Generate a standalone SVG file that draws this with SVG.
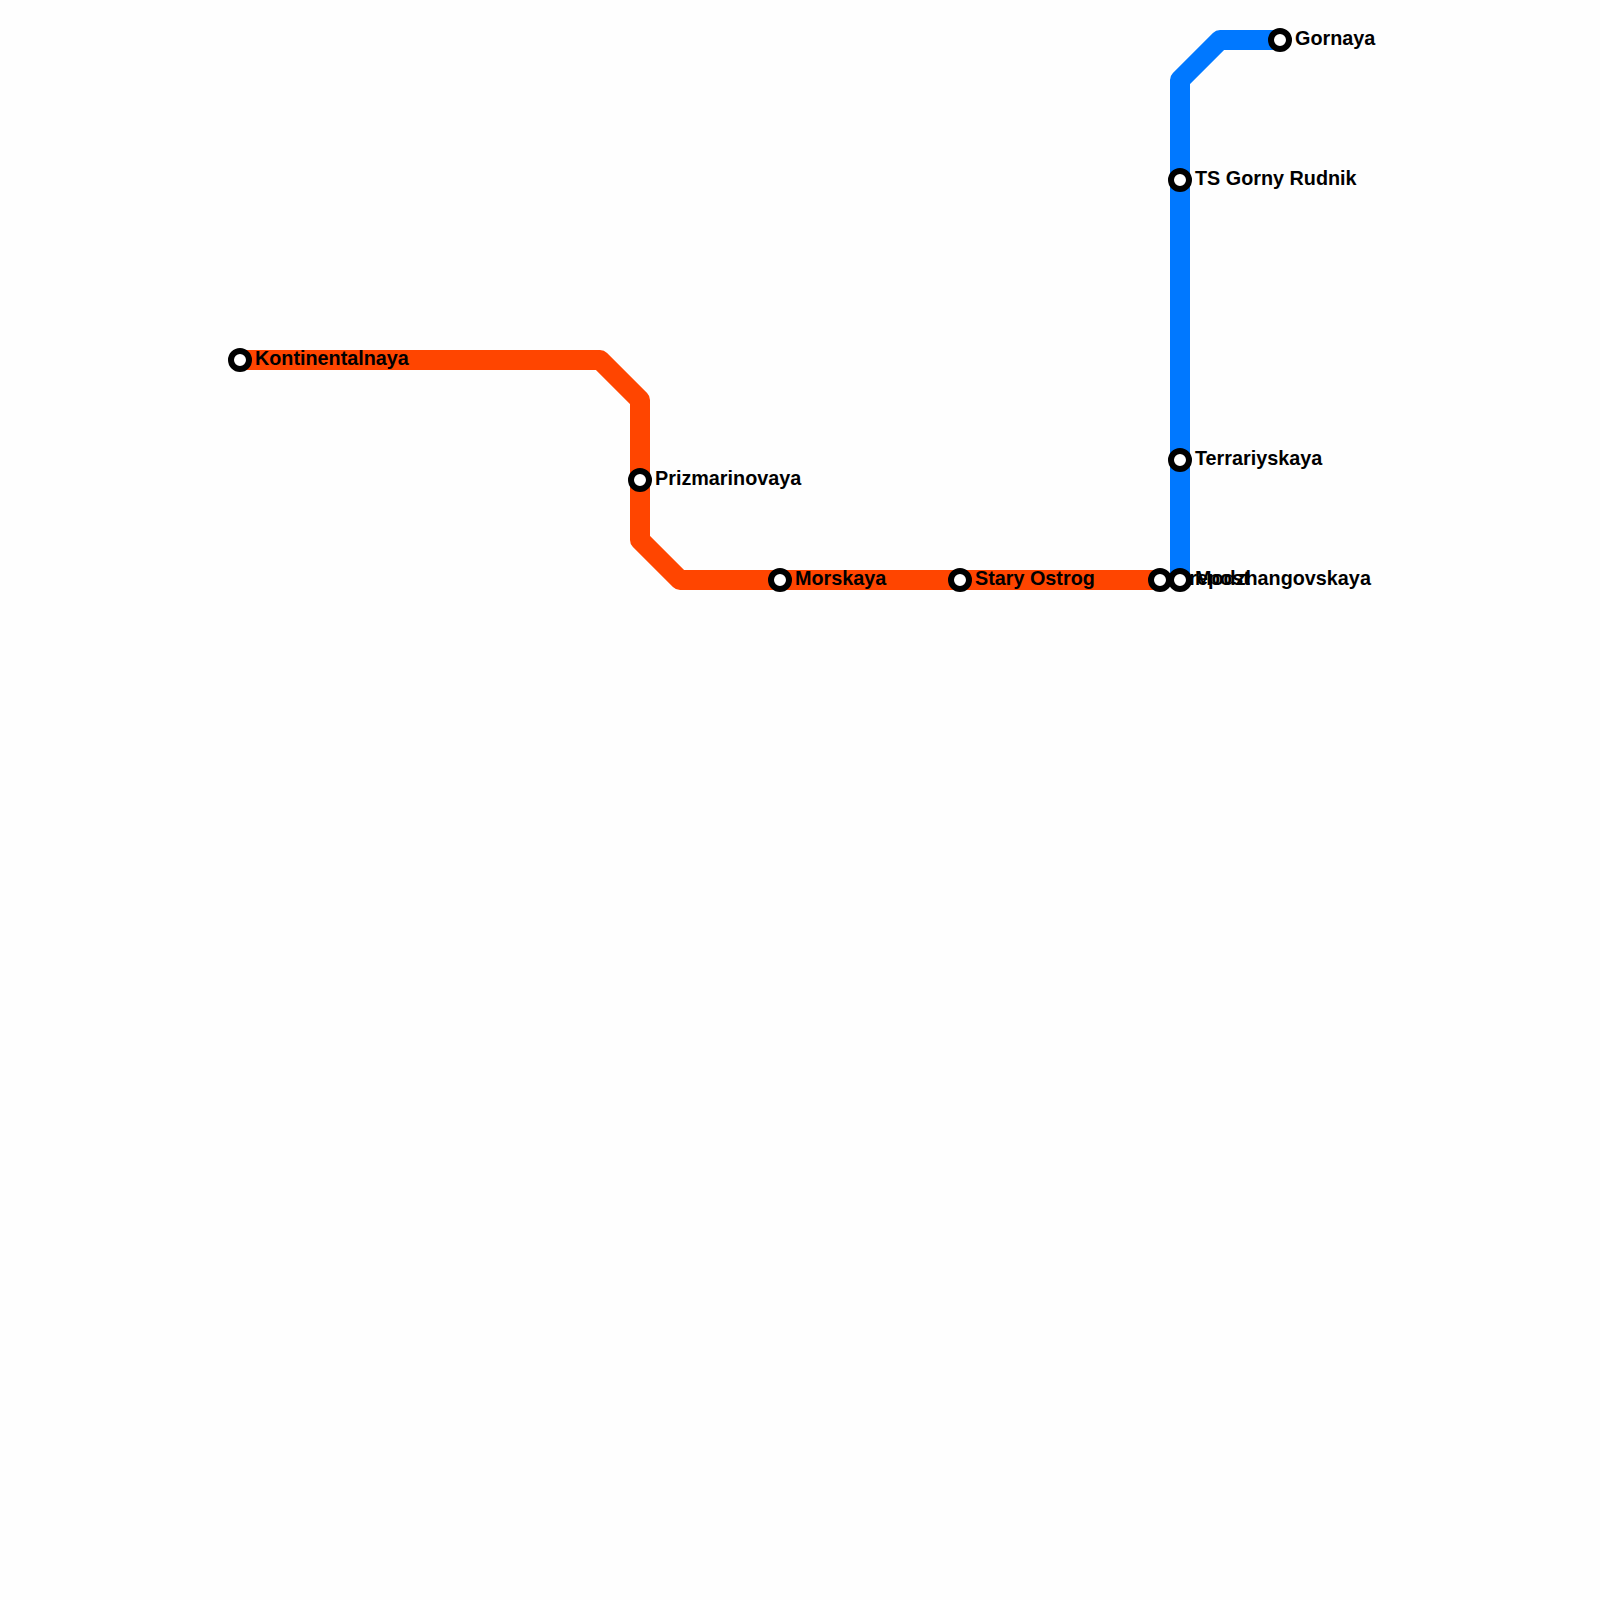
<svg xmlns="http://www.w3.org/2000/svg" width="1600" height="1600" viewBox="0 0 1600 1600">
<style>
.line{fill:none;stroke-width:20;stroke-linejoin:round}
.st{fill:#fff;stroke:#000;stroke-width:6}
text{font-family:"Liberation Sans",Arial,sans-serif;font-weight:700;font-size:19.8px;fill:#000}
</style>
<rect width="1600" height="1600" fill="#fefefe"/>
<g id="connectors">
<path class="line" stroke="#0078ff" d="M1180 580V80L1220 40H1280"/>
<path class="line" stroke="#ff4500" d="M240 360H600L640 400V540L680 580H1160"/>
</g>
<g id="kontinentalnaya"><circle class="st" cx="240" cy="360" r="9"/><text x="255" y="365">Kontinentalnaya</text></g>
<g id="prizmarinovaya"><circle class="st" cx="640" cy="480" r="9"/><text x="655" y="485">Prizmarinovaya</text></g>
<g id="morskaya"><circle class="st" cx="780" cy="580" r="9"/><text x="795" y="585">Morskaya</text></g>
<g id="stary-ostrog"><circle class="st" cx="960" cy="580" r="9"/><text x="975" y="585">Stary Ostrog</text></g>
<g id="krepost"><circle class="st" cx="1160" cy="580" r="9"/><text x="1175" y="585">Krepost</text></g>
<g id="modzhangovskaya"><circle class="st" cx="1180" cy="580" r="9"/><text x="1195" y="585">Modzhangovskaya</text></g>
<g id="terrariyskaya"><circle class="st" cx="1180" cy="460" r="9"/><text x="1195" y="465">Terrariyskaya</text></g>
<g id="ts-gorny-rudnik"><circle class="st" cx="1180" cy="180" r="9"/><text x="1195" y="185">TS Gorny Rudnik</text></g>
<g id="gornaya"><circle class="st" cx="1280" cy="40" r="9"/><text x="1295" y="45">Gornaya</text></g>
</svg>
